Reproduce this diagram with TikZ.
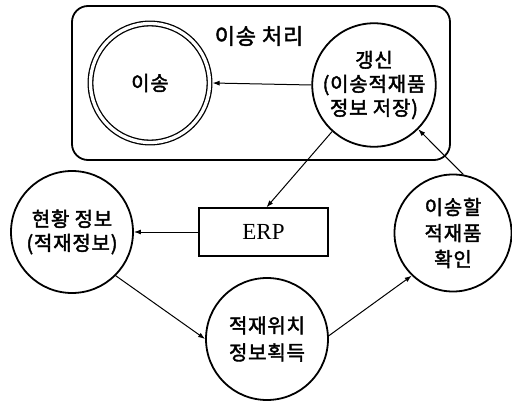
\documentclass[tikz,border=0pt]{standalone}
\usepackage{fontspec}
\newfontfamily\kr{Noto Sans CJK KR}[LetterSpace=4,FakeBold=2]
\newfontfamily\erpfont{Liberation Serif}
\usetikzlibrary{arrows.meta,calc}
\tikzset{
  circ/.style={circle, draw, line width=1.8pt, minimum size=120pt, inner sep=0pt, align=center, font=\kr\fontsize{20}{24}\selectfont},
  arr/.style={-{Latex[length=7pt,width=5pt]}, line width=1pt},
}
\begin{document}
\begin{tikzpicture}[x=1pt,y=-1pt]
\useasboundingbox (0,0) rectangle (512,404);
\node[draw, rounded corners=16pt, line width=1.8pt, minimum width=378pt, minimum height=154pt] (box) at (261,83) {};
\node[font=\kr\fontsize{22}{25}\selectfont] (title) at (259,36) {이송 처리};
\node[circ, double, line width=1.3pt, double distance=3.3pt, minimum size=119pt] (is) at (150,83) {이송};
\node[circ] (gs) at (374,85) {갱신\\(이송적재품\\정보 저장)};
\node[circ, minimum size=122pt] (hw) at (72,232) {현황 정보\\(적재정보)};
\node[circ, minimum size=117pt, font=\kr\fontsize{20}{26}\selectfont] (iw) at (453,233) {이송할\\적재품\\확인};
\node[circ, minimum size=122pt, font=\kr\fontsize{20}{27}\selectfont] (jj) at (267,339) {적재위치\\정보획득};
\node[draw, line width=1.3pt, minimum width=129pt, minimum height=48pt, font=\erpfont\fontsize{23}{26}\selectfont] (erp) at (263.5,232) {ERP};
\draw[arr] (gs.west) -- ([xshift=2.4pt]is.east);
\draw[arr] (gs.228) -- ([xshift=3pt]erp.north);
\draw[arr] (iw.80) -- (gs.-45);
\draw[arr] (erp.west) -- (hw.east);
\draw[arr] (hw.-45) -- (jj.180);
\draw[arr] (jj.3) -- (iw.226);
\end{tikzpicture}
\end{document}
